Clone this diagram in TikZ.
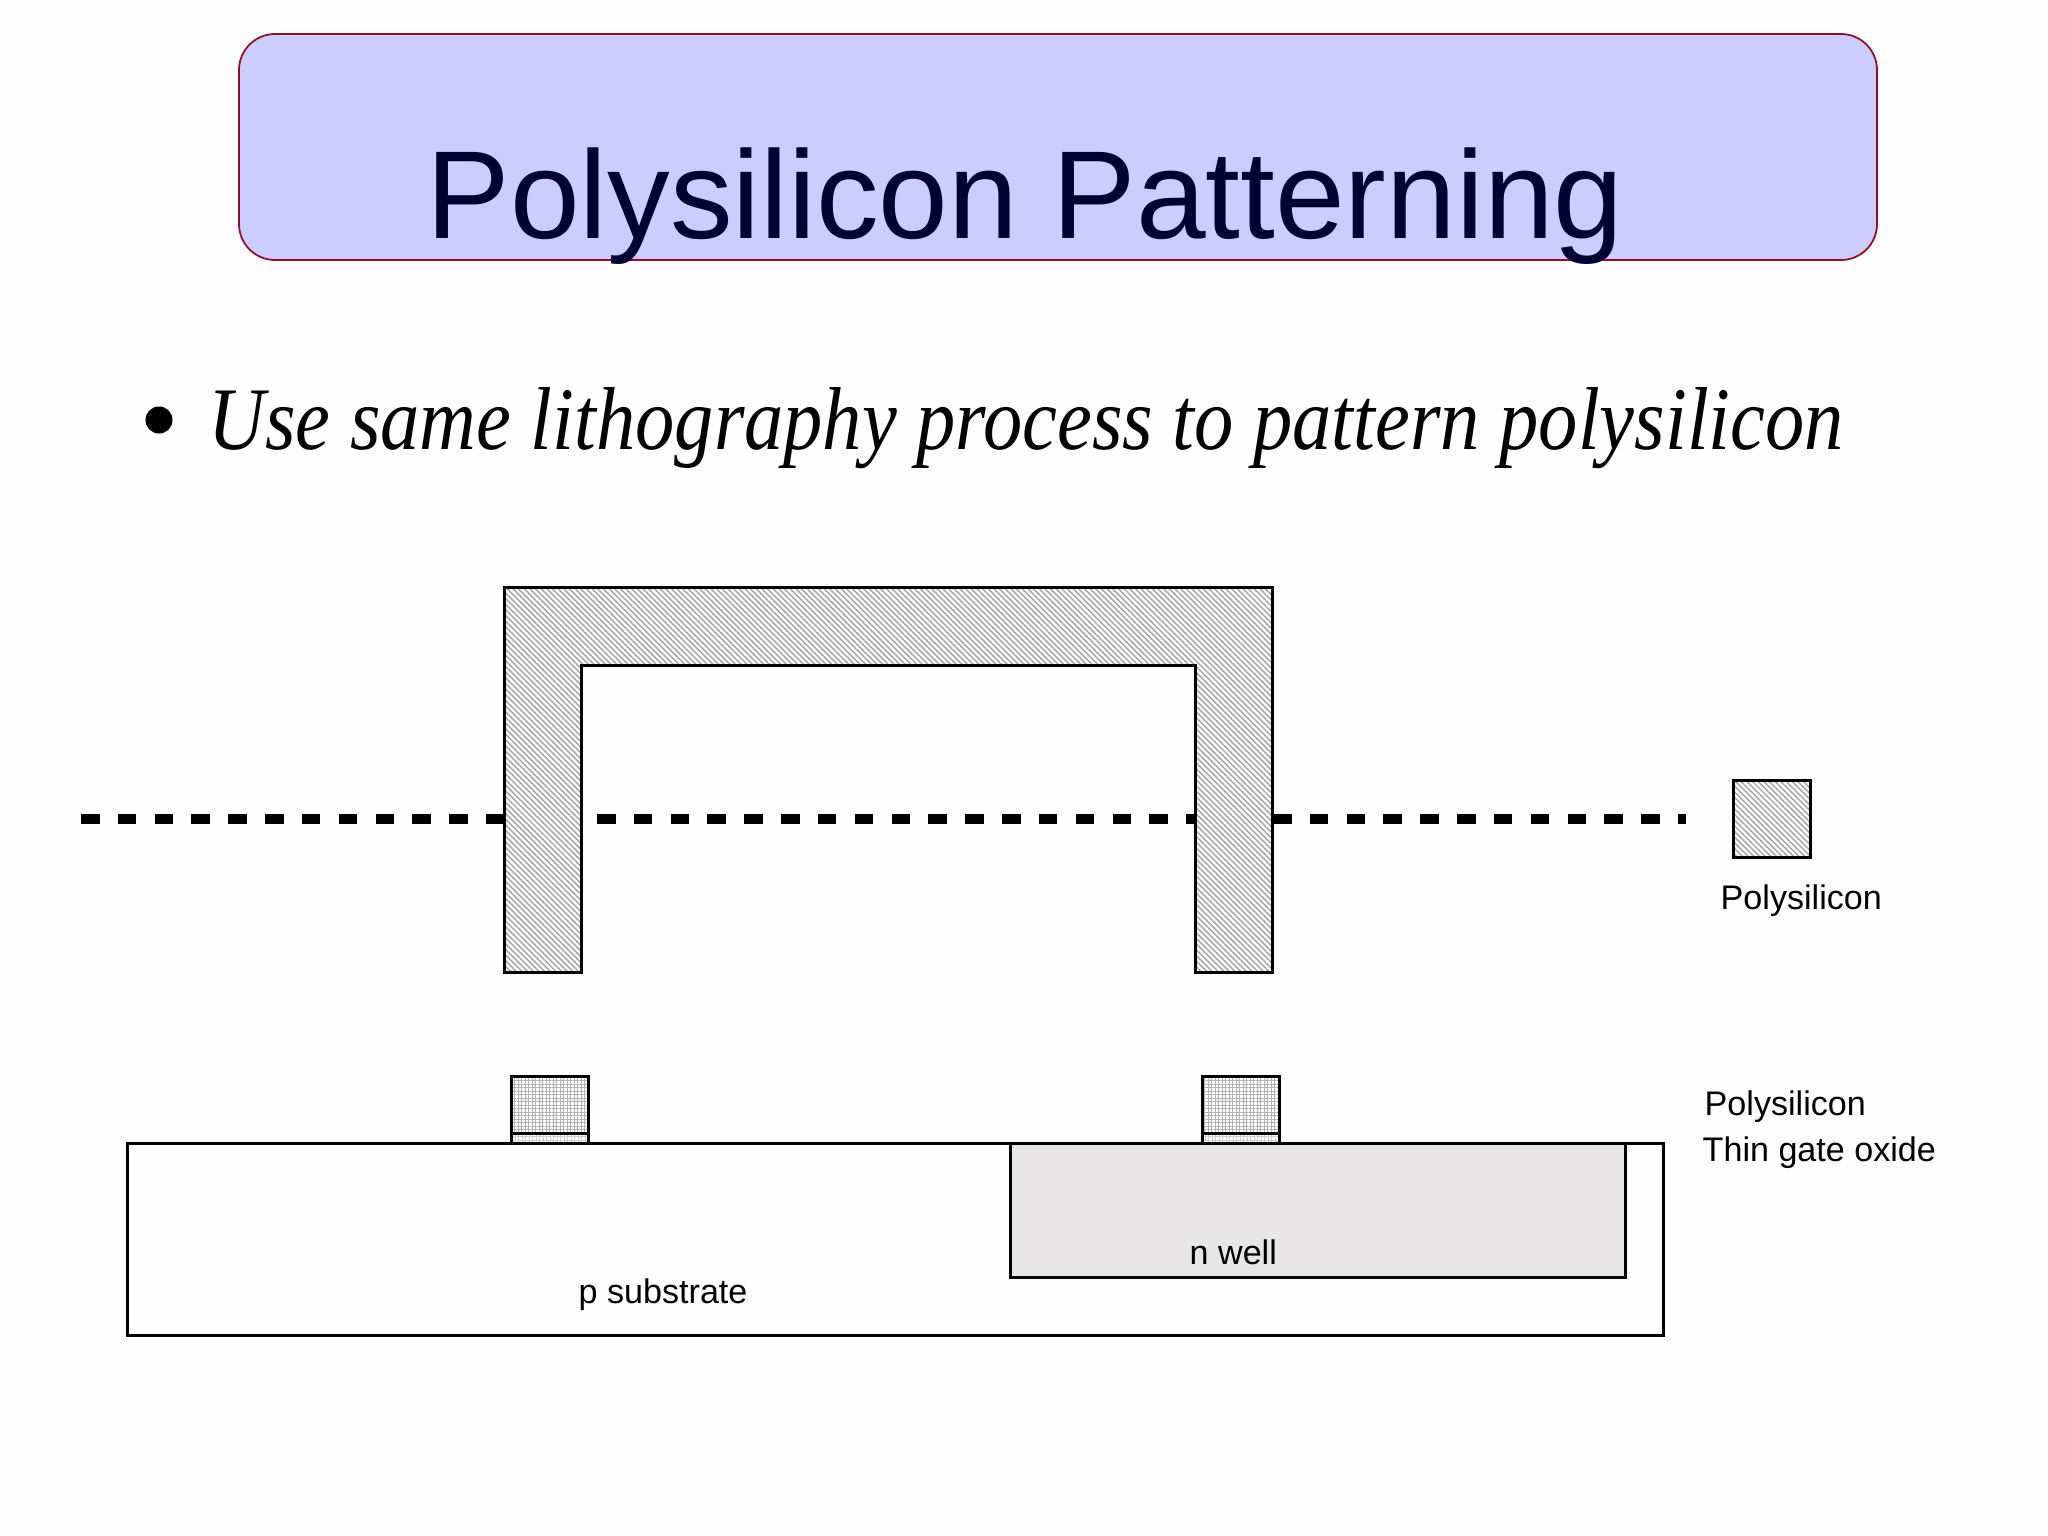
\documentclass[tikz,border=0pt]{standalone}
\usepackage{fontspec}
\setmainfont{Liberation Sans}
\newfontfamily\leadfont[FakeStretch=.878]{Liberation Serif}
\usetikzlibrary{patterns.meta}
\definecolor{bannerfill}{HTML}{CCCCFF}
\definecolor{bannerline}{HTML}{8E0F24}
\definecolor{titleink}{HTML}{000033}
\definecolor{wellfill}{HTML}{E7E5E6}
\definecolor{pagefill}{HTML}{FEFEFE}
\tikzset{
poly/.style={draw=black,line width=.03cm,pattern={Lines[angle=-45,distance=.04cm,line width=.014cm]},pattern color=black!36},
gatepoly/.style={draw=black,line width=.03cm,pattern={Hatch[angle=0,distance=.035cm,line width=.01cm]},pattern color=black!30},
gateoxide/.style={draw=black,line width=.03cm,pattern={Hatch[angle=0,distance=.035cm,line width=.006cm]},pattern color=black!20},
layer/.style={draw=black,line width=.03cm},
cutline/.style={line width=.1cm,dash pattern=on .185cm off .183cm},
label/.style={anchor=base west,inner sep=0pt,font=\fontsize{9.7pt}{12pt}\selectfont}
}
\begin{document}
\begin{tikzpicture}[x=.01cm,y=-.01cm]
\useasboundingbox (0,0) rectangle (2048,1536);
\fill[pagefill] (0,0) rectangle (2048,1536);
%banner
\draw[draw=bannerline,fill=bannerfill,line width=.5pt,rounded corners=.36cm] (239,34) rectangle (1877,260);
\node[anchor=base west,inner sep=0pt,text=titleink,font=\fontsize{35.6pt}{40pt}\selectfont] (title) at (426,238) {Polysilicon Patterning};
%bullet line
\node[circle,fill=black,inner sep=0pt,minimum size=.27cm] (dot) at (159,420) {};
\node[anchor=base west,inner sep=0pt,font=\leadfont\itshape\fontsize{25.4pt}{30pt}\selectfont] (lead) at (208,449) {Use same lithography process to pattern polysilicon};
%dashed cut
\coordinate (c1) at (81,819);
\coordinate (c2) at (504,819);
\coordinate (c3) at (597,819);
\coordinate (c4) at (1195,819);
\coordinate (c5) at (1273,819);
\coordinate (c6) at (1686,819);
\draw[cutline] (c1) -- (c2);
\draw[cutline] (c3) -- (c4);
\draw[cutline] (c5) -- (c6);
%mask
\fill[pagefill] (504,587) -- (1272,587) -- (1272,972) -- (1195,972) -- (1195,665) -- (581,665) -- (581,972) -- (504,972) -- cycle;
\draw[poly] (504,587) -- (1272,587) -- (1272,972) -- (1195,972) -- (1195,665) -- (581,665) -- (581,972) -- (504,972) -- cycle;
\draw[poly] (1733,780) rectangle (1810,857);
\node[label] (polykey) at (1720,909) {Polysilicon};
%cross section
\draw[layer] (127,1143) rectangle (1663,1335);
\draw[layer,fill=wellfill] (1010,1143) rectangle (1625,1277);
\foreach \gx in {511,1202}{
\draw[gatepoly] (\gx,1076) rectangle (\gx+77,1133);
\draw[gateoxide] (\gx,1133) rectangle (\gx+77,1143);
}
\node[label] (polylab) at (1704,1115) {Polysilicon};
\node[label] (oxidelab) at (1702,1161) {Thin gate oxide};
\node[label] (welllab) at (1189,1264) {n well};
\node[label] (sublab) at (578,1303) {p substrate};
\end{tikzpicture}
\end{document}
